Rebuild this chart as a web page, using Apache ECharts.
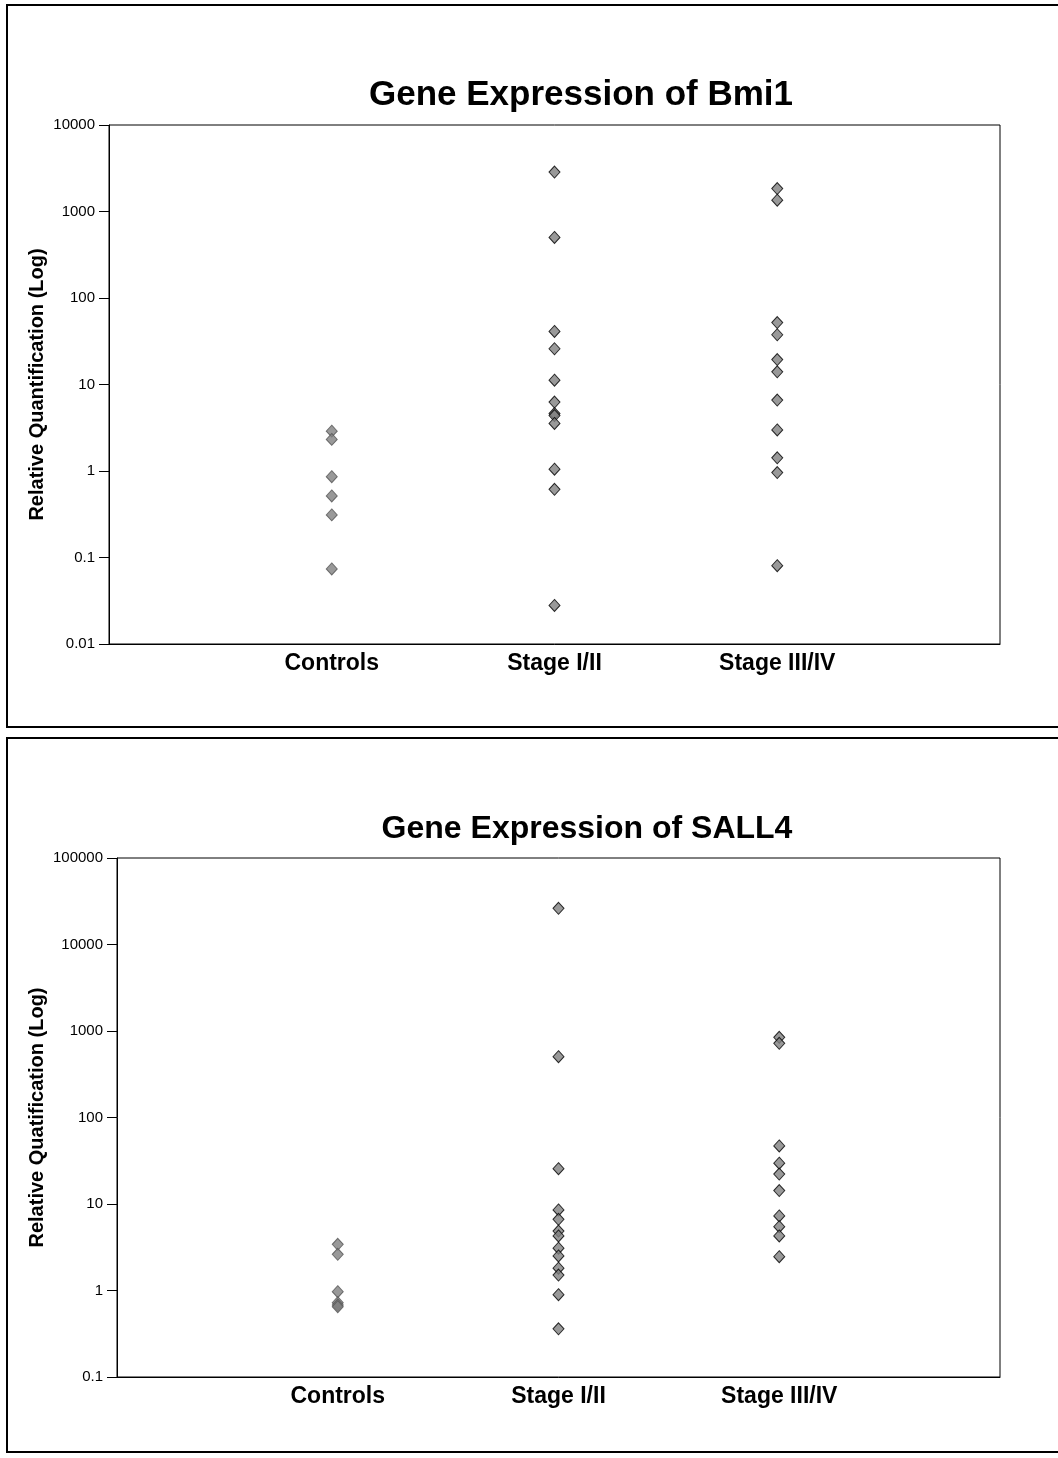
<!DOCTYPE html>
<html>
<head>
<meta charset="utf-8">
<script src="https://cdn.jsdelivr.net/npm/echarts@6/dist/echarts.min.js"></script>
<style>
  html, body { margin: 0; padding: 0; background: #fff; }
  #main { width: 1058px; height: 1458px; }
</style>
</head>
<body>
<div id="main"></div>
<script>
// groups along the x axis (placed at x = 1, 2, 3)
var groups = ['Controls', 'Stage I/II', 'Stage III/IV'];

// Bmi1 relative quantification
var bmi1Controls = [2.89, 2.32, 0.86, 0.515, 0.311, 0.0738];
var bmi1Stage12 = [2860, 501, 41, 25.9, 11.2, 6.27, 4.62, 4.38, 3.55, 1.05, 0.615, 0.0279];
var bmi1Stage34 = [1840, 1350, 52, 37.6, 19.4, 14.0, 6.6, 2.98, 1.42, 0.96, 0.0805];

// SALL4 relative quantification
var sall4Controls = [3.42, 2.62, 0.968, 0.723, 0.68, 0.65];
var sall4Stage12 = [26200, 505, 25.6, 8.53, 6.66, 4.87, 4.27, 3.08, 2.51, 1.81, 1.51, 0.894, 0.361];
var sall4Stage34 = [845, 721, 46.9, 29.6, 22.2, 14.3, 7.27, 5.47, 4.27, 2.46];

var font = "'Liberation Sans', Arial, sans-serif";

function pts(x, vals) {
    return vals.map(function (v) { return [x, v]; });
}

function dots(gi, x, vals, border) {
    return {
        type: 'scatter',
        xAxisIndex: gi,
        yAxisIndex: gi,
        symbol: 'diamond',
        symbolSize: [11, 12],
        itemStyle: { color: '#808080', borderColor: border, borderWidth: 1 },
        data: pts(x, vals),
        silent: true
    };
}

function xAxisFor(gi) {
    return {
        type: 'value',
        gridIndex: gi,
        min: 0,
        max: 4,
        interval: 1,
        splitLine: { show: false },
        axisTick: { show: false },
        axisLine: { lineStyle: { color: '#000', width: 1 } },
        axisLabel: {
            color: '#000',
            fontFamily: font,
            fontWeight: 'bold',
            fontSize: 23,
            margin: 8,
            showMinLabel: true,
            showMaxLabel: true,
            formatter: function (v) { return groups[v - 1] || ''; }
        }
    };
}

function yAxisFor(gi, min, max, name, gap) {
    return {
        type: 'log',
        logBase: 10,
        gridIndex: gi,
        min: min,
        max: max,
        name: name,
        nameLocation: 'middle',
        nameGap: gap,
        nameMoveOverlap: false,
        nameTextStyle: { color: '#000', fontFamily: font, fontWeight: 'bold', fontSize: 20 },
        splitLine: { show: false },
        axisLine: { lineStyle: { color: '#000', width: 1 } },
        axisTick: { length: 10, lineStyle: { color: '#000' } },
        axisLabel: {
            color: '#000',
            fontFamily: font,
            fontSize: 15,
            margin: 14,
            formatter: function (v) { return String(+v.toPrecision(6)); }
        }
    };
}

var chart = echarts.init(document.getElementById('main'));
chart.setOption({
    backgroundColor: '#fff',
    animation: false,
    title: [
        {
            text: 'Gene Expression of Bmi1',
            left: 576, top: 73, textAlign: 'center',
            textStyle: { color: '#000', fontFamily: font, fontWeight: 'bold', fontSize: 35 }
        },
        {
            text: 'Gene Expression of SALL4',
            left: 582, top: 808, textAlign: 'center',
            textStyle: { color: '#000', fontFamily: font, fontWeight: 'bold', fontSize: 32 }
        }
    ],
    graphic: [
        { type: 'rect', shape: { x: 7, y: 5, width: 1070, height: 722 },
          style: { fill: 'none', stroke: '#000', lineWidth: 2 }, silent: true },
        { type: 'rect', shape: { x: 7, y: 738, width: 1070, height: 714 },
          style: { fill: 'none', stroke: '#000', lineWidth: 2 }, silent: true }
    ],
    grid: [
        { left: 109, top: 125, width: 891, height: 519, show: true,
          borderColor: '#000', borderWidth: 1, backgroundColor: 'transparent' },
        { left: 117, top: 858, width: 883, height: 519, show: true,
          borderColor: '#000', borderWidth: 1, backgroundColor: 'transparent' }
    ],
    xAxis: [xAxisFor(0), xAxisFor(1)],
    yAxis: [
        yAxisFor(0, 0.01, 10000, 'Relative Quantification (Log)', 62),
        yAxisFor(1, 0.1, 100000, 'Relative Quatification (Log)', 70)
    ],
    series: [
        dots(0, 1, bmi1Controls, '#555'),
        dots(0, 2, bmi1Stage12, '#000'),
        dots(0, 3, bmi1Stage34, '#000'),
        dots(1, 1, sall4Controls, '#555'),
        dots(1, 2, sall4Stage12, '#000'),
        dots(1, 3, sall4Stage34, '#000')
    ]
});
</script>
</body>
</html>
